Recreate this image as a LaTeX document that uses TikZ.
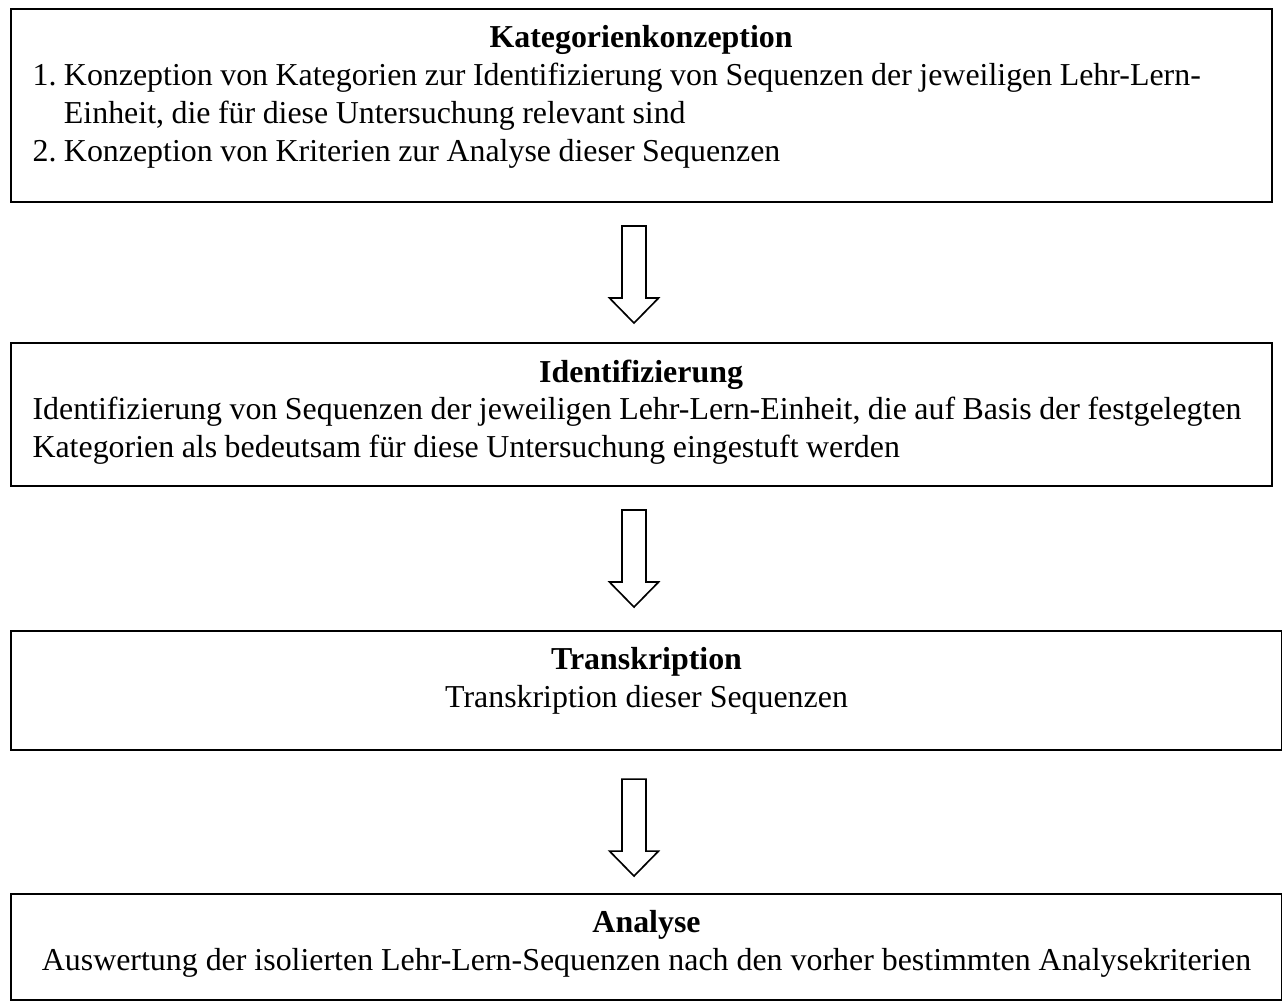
\documentclass[tikz,border=0pt]{standalone}
\usepackage{fontspec}
\setmainfont{Liberation Serif}
\usetikzlibrary{positioning,calc}
\newlength\pxu
\setlength\pxu{0.36364pt}
\tikzset{
  stage/.style     = {draw=black, line width=0.75pt, inner sep=0pt, anchor=north west},
  stagetext/.style = {inner sep=0pt, font=\fontsize{11.6}{13.8}\selectfont},
  bodytext/.style  = {stagetext, text width=1217\pxu, align=left,
                      execute at begin node={\spaceskip=0.235em\relax}},
  blockarrow/.style = {draw=black, line width=0.6pt, fill=white, line join=miter},
}
\begin{document}
\begin{tikzpicture}[x=\pxu, y=\pxu]
  \useasboundingbox (0,0) rectangle (1282,-1001);
  % frames
  \node[stage, minimum width=1261\pxu, minimum height=193\pxu] (kat)   at (10,-8)   {};
  \node[stage, minimum width=1261\pxu, minimum height=143\pxu] (ident) at (10,-342) {};
  \node[stage, minimum width=1271\pxu, minimum height=119\pxu] (trans) at (10,-630) {};
  \node[stage, minimum width=1271\pxu, minimum height=106\pxu] (ana)   at (10,-893) {};
  % texts
  \node[bodytext, below right=17\pxu and 22\pxu of kat.north west] (kattext)
    {\centerline{\textbf{Kategorienkonzeption}}
     \mbox{1.~Konzeption von Kategorien zur Identifizierung von Sequenzen der jeweiligen Lehr-Lern-}\\
     \hphantom{1.~}Einheit, die für diese Untersuchung relevant sind\\
     2.~Konzeption von Kriterien zur Analyse dieser Sequenzen};
  \node[bodytext, below right=17\pxu and 22\pxu of ident.north west] (identtext)
    {\centerline{\textbf{Identifizierung}}
     \mbox{Identifizierung von Sequenzen der jeweiligen Lehr-Lern-Einheit, die auf Basis der festgelegten}\\
     Kategorien als bedeutsam für diese Untersuchung eingestuft werden};
  \node[stagetext, align=center, below=17\pxu of trans.north] (transtext)
    {\textbf{Transkription}\\ Transkription dieser Sequenzen};
  \node[stagetext, align=center, below=17\pxu of ana.north] (anatext)
    {\textbf{Analyse}\\ Auswertung der isolierten Lehr-Lern-Sequenzen nach den vorher bestimmten Analysekriterien};
  % hollow arrows between the stages
  \foreach \a/\gap in {kat/23, ident/23, trans/28}
    \draw[blockarrow] ($(634,0 |- \a.south)+(-12,-\gap)$) -- ++(24,0) -- ++(0,-72)
      -- ++(12.5,0) -- ++(-24.5,-25) -- ++(-24.5,25) -- ++(12.5,0) -- cycle;
\end{tikzpicture}
\end{document}
